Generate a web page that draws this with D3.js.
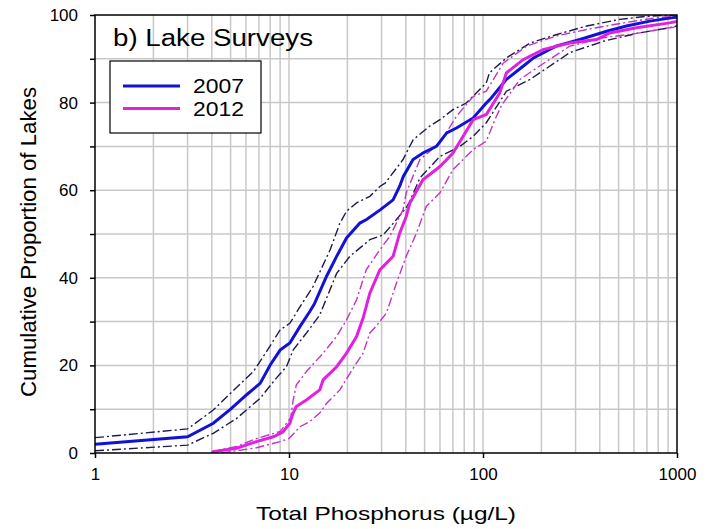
<!DOCTYPE html>
<html>
<head>
<meta charset="utf-8">
<script src="https://cdn.jsdelivr.net/npm/d3@7"></script>
<style>
  body { margin: 0; background: #fff; }
  text { font-family: "Liberation Sans", Arial, sans-serif; }
</style>
</head>
<body>
<div id="chart"></div>
<script>
// total phosphorus (x) and cumulative % of lakes (y)
var x2007 = [1, 3, 4.07, 5, 6.05, 7.1, 8.0, 9.0, 10.1, 11.4, 12.8, 13.5, 15.6, 17.6, 19.8, 23.2, 25.1, 29.5, 34.4, 37.2, 38.9, 43.6, 49, 57.5, 65, 73, 89, 104, 110, 132, 161, 182, 238, 316, 434, 549, 724, 953, 1000];
var y2007 = [2.0, 3.7, 6.8, 10.0, 13.3, 15.9, 20.1, 23.5, 25.1, 28.9, 32.3, 34.0, 40.3, 44.9, 49.1, 52.5, 53.3, 55.5, 57.8, 60.9, 63.2, 67.0, 68.5, 70.0, 73.1, 74.2, 76.5, 79.9, 81.0, 85.3, 88.3, 90.2, 92.9, 94.4, 96.3, 97.5, 98.6, 99.4, 99.5];

var x2007hi = [1, 3, 4.07, 5.2, 6.55, 7.67, 9, 10.1, 11.4, 13.3, 16.3, 18.3, 19.8, 22.3, 26.1, 29.5, 31.3, 35.8, 38.7, 43.6, 53, 60, 70, 82, 104, 108, 132, 175, 238, 343, 506, 700, 1000];
var y2007hi = [3.5, 5.5, 9.8, 14.4, 18.6, 23.2, 28.1, 29.6, 33.4, 38.0, 46.4, 52.5, 55.2, 57.1, 58.6, 60.9, 61.6, 65.0, 67.0, 71.5, 74.6, 76.1, 78.4, 79.9, 84.5, 86.8, 90.2, 93.6, 95.5, 97.5, 99.0, 99.7, 100];

var x2007lo = [1, 3, 4.07, 5.37, 7.1, 8.6, 9.7, 10.5, 12.3, 14.4, 17.6, 20.6, 26.1, 30.6, 35.8, 40.2, 42, 47.3, 60, 76, 89, 104, 132, 175, 280, 417, 620, 915, 1000];
var y2007lo = [0.5, 1.8, 4.5, 7.9, 12.5, 17.1, 19.7, 23.5, 27.4, 31.5, 41.0, 44.9, 48.7, 49.8, 53.3, 56.0, 57.5, 62.8, 67.7, 70.0, 72.3, 75.4, 82.6, 85.3, 91.4, 94.0, 95.8, 97.1, 97.5];

var x2012 = [4.0, 4.07, 5.37, 6.8, 8.3, 9.3, 10.1, 10.5, 10.9, 11.9, 12.3, 14.4, 15, 17.6, 19.8, 22.3, 24.1, 26.1, 29.4, 34.4, 37.2, 40.2, 42, 49, 60, 70, 79, 89, 104, 122, 132, 161, 204, 280, 385, 450, 620, 915, 1000];
var y2012 = [0, 0.3, 1.1, 2.6, 3.7, 4.8, 6.8, 9.1, 10.6, 11.7, 12.1, 14.4, 16.7, 19.7, 22.8, 26.6, 30.8, 36.5, 41.8, 44.9, 50.2, 54.0, 57.1, 62.4, 65.4, 68.5, 72.3, 76.1, 77.3, 82.2, 86.8, 89.8, 92.1, 93.6, 94.4, 95.9, 97.1, 98.2, 98.5];

var x2012hi = [4.0, 5.37, 6.8, 9, 10.2, 10.5, 10.9, 12.3, 15, 17.6, 19.8, 22.3, 25, 29.4, 33, 38.7, 40.2, 47.3, 60, 73, 89, 104, 127, 168, 238, 343, 530, 790, 1000];
var y2012hi = [0.3, 1.5, 3.3, 4.9, 8.0, 12.0, 15.5, 18.6, 22.8, 26.6, 30.4, 35.0, 41.8, 46.4, 49.4, 55.5, 59.4, 67.0, 70.8, 76.9, 81.4, 82.6, 89.0, 92.9, 95.2, 96.7, 98.2, 99.4, 99.7];

var x2012lo = [4.5, 6.8, 9, 10, 11.4, 12.8, 14.4, 15.6, 18.3, 20.6, 24.1, 26.1, 28.2, 31.8, 35.8, 40.2, 45.4, 51, 60, 70, 89, 104, 115, 125, 140, 155, 195, 280, 417, 620, 915, 1000];
var y2012lo = [0, 1.2, 2.6, 3.3, 6.0, 7.2, 9.1, 11.3, 14.4, 18.2, 22.8, 27.4, 29.0, 32.0, 38.8, 44.9, 50.2, 56.3, 59.4, 64.7, 69.3, 71.2, 76.0, 79.5, 82.5, 85.3, 88.3, 92.9, 94.8, 95.8, 97.1, 97.3];

var xTicks = [1, 10, 100, 1000];
var yTicks = [0, 10, 20, 30, 40, 50, 60, 70, 80, 90, 100];
var yLabels = [0, 20, 40, 60, 80, 100];
var legendLabels = ["2007", "2012"];

// dimensions
var margin = {top: 15, right: 31, bottom: 76, left: 95},
    width = 708 - margin.left - margin.right,
    height = 529 - margin.top - margin.bottom;

var x = d3.scaleLog().domain([1, 1000]).range([0, width]);
var y = d3.scaleLinear().domain([0, 100]).range([height, 0]);

var svg = d3.select("#chart").append("svg")
    .attr("width", 708)
    .attr("height", 529)
  .append("g")
    .attr("transform", "translate(" + margin.left + "," + margin.top + ")");

svg.append("clipPath").attr("id", "clip")
  .append("rect").attr("width", width).attr("height", height);

// grid lines
var minor = [];
[1, 10, 100].forEach(function(d) {
  for (var k = 1; k <= 9; k++) minor.push(d * k);
});
minor.push(1000);

svg.append("g").selectAll("line.vg")
  .data(minor.filter(function(d) { return d > 1 && d < 1000; }))
  .enter().append("line")
    .attr("x1", function(d) { return x(d); })
    .attr("x2", function(d) { return x(d); })
    .attr("y1", 0).attr("y2", height)
    .attr("stroke", "#c8c8c8").attr("stroke-width", 1.5);

svg.append("g").selectAll("line.hg")
  .data(yTicks.filter(function(d) { return d > 0 && d < 100; }))
  .enter().append("line")
    .attr("x1", 0).attr("x2", width)
    .attr("y1", function(d) { return y(d); })
    .attr("y2", function(d) { return y(d); })
    .attr("stroke", "#c8c8c8").attr("stroke-width", 1.5);

// lines
var line = d3.line()
    .x(function(d) { return x(d[0]); })
    .y(function(d) { return y(d[1]); });

function pairs(xs, ys) { return xs.map(function(v, i) { return [v, ys[i]]; }); }

var series = [
  {xs: x2007hi, ys: y2007hi, color: "#1c1c4e", w: 1.4, dash: "9,3,2,3"},
  {xs: x2007lo, ys: y2007lo, color: "#1c1c4e", w: 1.4, dash: "9,3,2,3"},
  {xs: x2012hi, ys: y2012hi, color: "#c533c5", w: 1.4, dash: "9,3,2,3"},
  {xs: x2012lo, ys: y2012lo, color: "#c533c5", w: 1.4, dash: "9,3,2,3"},
  {xs: x2007, ys: y2007, color: "#1212d4", w: 3, dash: null},
  {xs: x2012, ys: y2012, color: "#e022e0", w: 3, dash: null}
];

var plot = svg.append("g").attr("clip-path", "url(#clip)");
series.forEach(function(s) {
  plot.append("path")
    .datum(pairs(s.xs, s.ys))
    .attr("fill", "none")
    .attr("stroke", s.color)
    .attr("stroke-width", s.w)
    .attr("stroke-dasharray", s.dash)
    .attr("d", line);
});

// frame
svg.append("rect")
  .attr("width", width).attr("height", height)
  .attr("fill", "none").attr("stroke", "#000").attr("stroke-width", 1.5);

// x axis
var xAxis = svg.append("g")
  .attr("transform", "translate(0," + height + ")")
  .call(d3.axisBottom(x).tickValues(xTicks).tickFormat(d3.format("d")).tickSize(5).tickPadding(10));
xAxis.select(".domain").remove();
xAxis.selectAll("line").attr("stroke-width", 1.5);
xAxis.selectAll("text").attr("font-size", 17).attr("fill", "#000");

// y axis
var yAxis = svg.append("g")
  .call(d3.axisLeft(y).tickValues(yTicks)
    .tickFormat(function(d) { return yLabels.indexOf(d) >= 0 ? d : ""; })
    .tickSize(5).tickPadding(12));
yAxis.select(".domain").remove();
yAxis.selectAll("line").attr("stroke-width", 1.5);
yAxis.selectAll("text").attr("font-size", 17).attr("fill", "#000");

// axis titles
svg.append("text")
  .attr("x", width / 2).attr("y", height + 67)
  .attr("text-anchor", "middle")
  .attr("font-size", 19)
  .attr("textLength", 260).attr("lengthAdjust", "spacingAndGlyphs")
  .text("Total Phosphorus (µg/L)");

svg.append("text")
  .attr("transform", "translate(" + (36 - margin.left) + "," + (242 - margin.top) + ") rotate(-90)")
  .attr("text-anchor", "middle")
  .attr("font-size", 22)
  .attr("textLength", 310).attr("lengthAdjust", "spacingAndGlyphs")
  .text("Cumulative Proportion of Lakes");

// panel title
svg.append("text")
  .attr("x", 113 - margin.left).attr("y", 46 - margin.top)
  .attr("font-size", 23)
  .attr("textLength", 200).attr("lengthAdjust", "spacingAndGlyphs")
  .text("b) Lake Surveys");

// legend
var legend = svg.append("g").attr("transform", "translate(" + (110 - margin.left) + "," + (61 - margin.top) + ")");
legend.append("rect")
  .attr("width", 151).attr("height", 72)
  .attr("fill", "#fff").attr("stroke", "#000").attr("stroke-width", 1.2);
var legendColors = ["#1212d4", "#e022e0"];
legendLabels.forEach(function(lab, i) {
  legend.append("line")
    .attr("x1", 13).attr("x2", 70)
    .attr("y1", 25 + i * 22.5).attr("y2", 25 + i * 22.5)
    .attr("stroke", legendColors[i]).attr("stroke-width", 3);
  legend.append("text")
    .attr("x", 83).attr("y", 32 + i * 23)
    .attr("font-size", 21)
    .attr("textLength", 51).attr("lengthAdjust", "spacingAndGlyphs")
    .text(lab);
});
</script>
</body>
</html>
